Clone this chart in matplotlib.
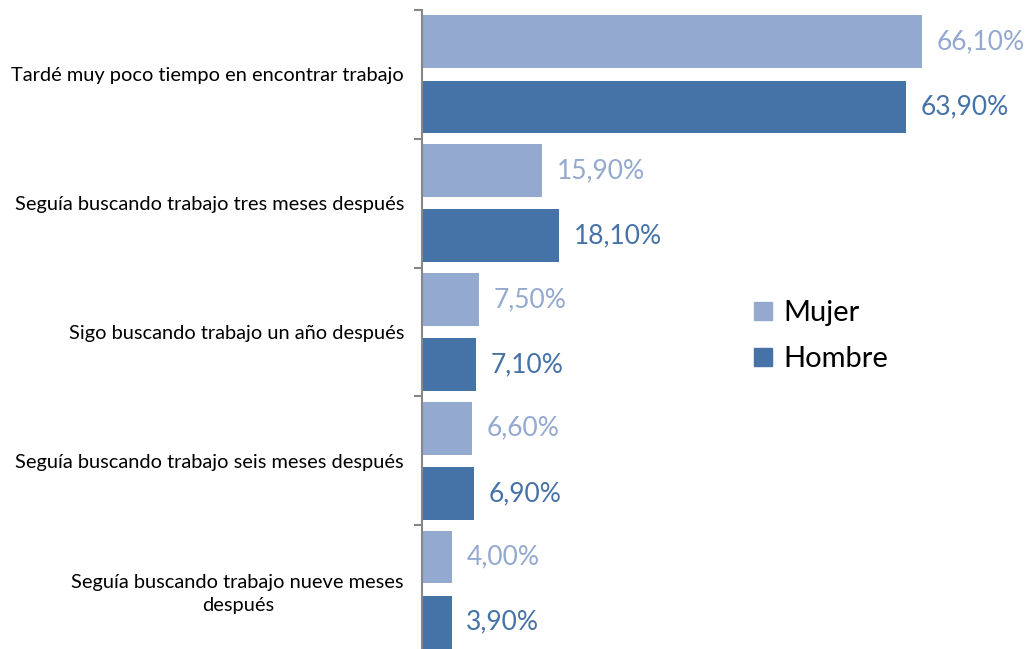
import matplotlib.pyplot as plt
import numpy as np
from matplotlib.patches import Patch

categories = [
    "Tardé muy poco tiempo en encontrar trabajo",
    "Seguía buscando trabajo tres meses después",
    "Sigo buscando trabajo un año después",
    "Seguía buscando trabajo seis meses después",
    "Seguía buscando trabajo nueve meses\ndespués",
]
mujer = [66.1, 15.9, 7.5, 6.6, 4.0]
hombre = [63.9, 18.1, 7.1, 6.9, 3.9]
series_names = ["Mujer", "Hombre"]

c_mujer = "#94A9D0"
c_hombre = "#4572A7"
axis_gray = "#878787"

plt.rcParams["font.family"] = ["Lato", "DejaVu Sans"]

fig = plt.figure(figsize=(10.29, 6.49), dpi=100)
ax = fig.add_axes([422 / 1029, -5 / 649, 607 / 1029, 644 / 649])

pos = np.arange(len(categories)) + 0.5
h = 0.41
ax.barh(pos - 0.2525, mujer, height=h, color=c_mujer)
ax.barh(pos + 0.2525, hombre, height=h, color=c_hombre)

for y, v in zip(pos - 0.2525, mujer):
    ax.annotate(f"{v:.2f}%".replace(".", ","), (v, y), xytext=(10.5, 0),
                textcoords="offset points", va="center", ha="left",
                fontsize=19, color=c_mujer)
for y, v in zip(pos + 0.2525, hombre):
    ax.annotate(f"{v:.2f}%".replace(".", ","), (v, y), xytext=(10.5, 0),
                textcoords="offset points", va="center", ha="left",
                fontsize=19, color=c_hombre)

ax.set_xlim(0, 80.2)
ax.set_ylim(len(categories), 0)
ax.set_xticks([])

# boundaries as major ticks, labels on minor ticks at centres
ax.set_yticks(np.arange(len(categories) + 1))
ax.set_yticklabels([])
ax.tick_params(axis="y", which="major", length=6, width=1.5, color=axis_gray)
ax.set_yticks(pos, minor=True)
ax.set_yticklabels(categories, minor=True, fontsize=14.4, color="#000000",
                   multialignment="center", linespacing=1.45)
ax.tick_params(axis="y", which="minor", length=0, pad=13)

for s in ["top", "right", "bottom"]:
    ax.spines[s].set_visible(False)
ax.spines["left"].set_color(axis_gray)
ax.spines["left"].set_linewidth(1.5)

handles = [Patch(color=c_mujer), Patch(color=c_hombre)]
fig.legend(handles, series_names, loc="upper left", bbox_to_anchor=(728 / 1029, 1 - 274 / 649),
           frameon=False, fontsize=21, handlelength=0.6, handleheight=0.6,
           handletextpad=0.4, labelspacing=0.68)

fig.savefig("out.png", dpi=100)
